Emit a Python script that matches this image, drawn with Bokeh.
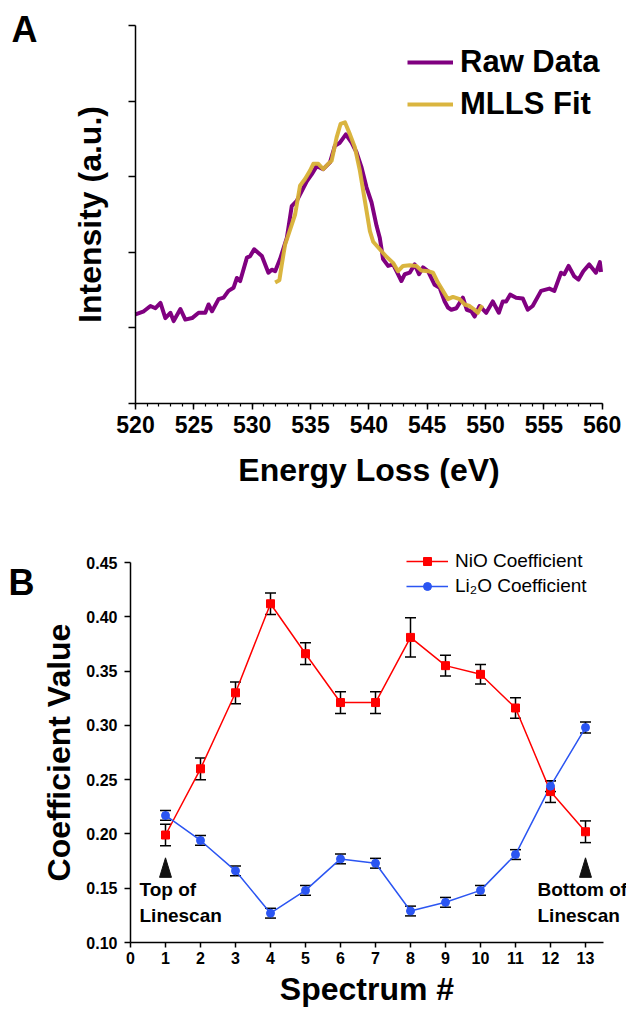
from bokeh.plotting import figure
from bokeh.models import (ColumnDataSource, Legend, LegendItem, Label, Whisker,
                          TeeHead, FixedTicker, Range1d, NumeralTickFormatter)
from bokeh.layouts import column
from bokeh.embed import file_html
from bokeh.resources import INLINE

FONT = "Liberation Sans"

# ---------------- Panel A: O-K edge spectrum and MLLS fit ----------------
raw_energy = [520.00, 520.71, 521.28, 521.71, 522.14, 522.56, 522.99, 523.27, 523.85,
              524.27, 524.85, 525.41, 525.98, 526.26, 526.56, 527.12, 527.55, 527.97,
              528.40, 528.69, 528.97, 529.55, 529.83, 530.17, 530.83, 531.39, 531.68,
              531.97, 532.39, 532.97, 533.39, 533.82, 534.25, 534.68, 535.10, 535.53,
              536.09, 536.67, 537.09, 537.52, 538.03, 538.52, 538.95, 539.38, 539.80,
              540.23, 540.66, 540.94, 541.22, 541.65, 542.08, 542.37, 542.79, 543.08,
              543.50, 543.93, 544.30, 544.64, 545.07, 545.64, 546.07, 546.50, 546.78,
              547.07, 547.50, 548.06, 548.40, 548.78, 549.06, 549.49, 550.06, 550.62,
              551.14, 551.48, 551.77, 552.11, 552.62, 553.19, 553.62, 554.04, 554.76,
              555.47, 555.90, 556.47, 556.75, 557.12, 557.61, 557.97, 558.38, 558.89,
              559.46, 559.80, 559.90]
raw_intensity = [1.18, 1.22, 1.29, 1.26, 1.33, 1.13, 1.20, 1.09, 1.25,
                 1.11, 1.13, 1.20, 1.20, 1.31, 1.22, 1.38, 1.40, 1.49,
                 1.53, 1.66, 1.62, 1.93, 1.95, 2.04, 1.95, 1.73, 1.77,
                 1.75, 1.91, 2.19, 2.61, 2.68, 2.81, 2.94, 3.03, 3.14,
                 3.10, 3.19, 3.41, 3.45, 3.56, 3.45, 3.32, 3.12, 2.86,
                 2.66, 2.35, 2.19, 1.91, 1.82, 1.84, 1.75, 1.62, 1.71,
                 1.73, 1.84, 1.71, 1.80, 1.75, 1.57, 1.53, 1.35, 1.27,
                 1.24, 1.26, 1.40, 1.24, 1.22, 1.15, 1.29, 1.20, 1.35,
                 1.20, 1.35, 1.35, 1.44, 1.40, 1.39, 1.24, 1.29, 1.49,
                 1.52, 1.49, 1.73, 1.71, 1.82, 1.68, 1.64, 1.75, 1.84,
                 1.73, 1.87, 1.74]

fit_energy = [531.97, 532.33, 532.54, 532.82, 533.25, 533.68, 534.10, 534.53, 534.96,
              535.24, 535.67, 536.09, 536.52, 536.81, 537.24, 537.58, 537.95, 538.38,
              538.80, 539.23, 539.66, 540.09, 540.37, 540.94, 541.51, 542.08, 542.50,
              542.93, 543.50, 544.08, 544.50, 545.07, 545.50, 545.92, 546.35, 546.78,
              547.21, 547.78, 548.21, 548.63, 549.06, 549.34, 549.72]
fit_intensity = [1.60, 1.63, 1.84, 2.10, 2.30, 2.50, 2.88, 2.97, 3.08,
                 3.17, 3.17, 3.10, 3.17, 3.21, 3.52, 3.70, 3.72, 3.56,
                 3.39, 3.08, 2.68, 2.28, 2.14, 2.04, 1.94, 1.86, 1.75,
                 1.82, 1.83, 1.82, 1.76, 1.75, 1.73, 1.60, 1.49, 1.38,
                 1.41, 1.38, 1.31, 1.29, 1.24, 1.20, 1.30]

energy_ticks = [520, 525, 530, 535, 540, 545, 550, 555, 560]
intensity_ticks = [0, 1, 2, 3, 4, 5]

# ---------------- Panel B: MLLS coefficients along the linescan ----------------
spectrum = [1, 2, 3, 4, 5, 6, 7, 8, 9, 10, 11, 12, 13]
nio_coef = [0.199, 0.260, 0.330, 0.412, 0.366, 0.321, 0.321, 0.381, 0.355, 0.347,
            0.316, 0.239, 0.202]
nio_err = [0.010, 0.010, 0.010, 0.010, 0.010, 0.010, 0.010, 0.018, 0.0095, 0.009,
           0.0095, 0.010, 0.010]
li2o_coef = [0.217, 0.194, 0.166, 0.127, 0.148, 0.177, 0.173, 0.129, 0.137, 0.148,
             0.181, 0.244, 0.298]
li2o_err = [0.0045, 0.0045, 0.0045, 0.0045, 0.0045, 0.0045, 0.0045, 0.0045, 0.0045,
            0.0045, 0.0045, 0.005, 0.005]
spectrum_ticks = list(range(0, 14))
coef_ticks = [0.10, 0.15, 0.20, 0.25, 0.30, 0.35, 0.40, 0.45]

# linescan end markers: spectrum index, arrow base / tip (coefficient units)
scan_ends = [1, 13]
arrow_base = 0.160
arrow_tip = 0.178
arrow_half_width = 0.17

PURPLE = "#800080"
GOLD = "#d8b135"
RED = "#ff0000"
BLUE = "#2b55f2"

W = 626
HA, HB = 520, 490


def span(v0, v1, p0, p1, size):
    """Range whose values v0/v1 land on canvas pixels p0/p1 (canvas is `size` px)."""
    scale = (p1 - p0) / (v1 - v0)
    start = v0 - p0 / scale
    return start, start + size / scale


def style_axis(ax, label_size, title_size):
    ax.axis_line_color = "black"
    ax.axis_line_width = 1.5
    ax.major_tick_line_color = "black"
    ax.major_tick_line_width = 1.5
    ax.minor_tick_line_color = "black"
    ax.minor_tick_line_width = 1.2
    ax.major_tick_in = 0
    ax.minor_tick_in = 0
    ax.major_label_text_font = FONT
    ax.major_label_text_font_style = "bold"
    ax.major_label_text_font_size = label_size
    ax.major_label_text_color = "black"
    ax.axis_label_text_font = FONT
    ax.axis_label_text_font_style = "bold"
    ax.axis_label_text_font_size = title_size
    ax.axis_label_text_color = "black"


# ---- figure A (the frame fills the canvas; axes are pinned inside it) ----
ax0, ax1 = span(520, 560, 135, 601.7, W)
ay0, ay1 = span(0, 5, HA - 403, HA - 25, HA)
pa = figure(width=W, height=HA, x_range=Range1d(ax0, ax1), y_range=Range1d(ay0, ay1),
            output_backend="svg", toolbar_location=None,
            min_border_left=0, min_border_right=0, min_border_top=0, min_border_bottom=0)
pa.outline_line_color = None
pa.xgrid.visible = False
pa.ygrid.visible = False

raw_src = ColumnDataSource(dict(x=raw_energy, y=raw_intensity))
fit_src = ColumnDataSource(dict(x=fit_energy, y=fit_intensity))
r_raw = pa.line("x", "y", source=raw_src, line_color=PURPLE, line_width=4,
                line_join="round")
r_fit = pa.line("x", "y", source=fit_src, line_color=GOLD, line_width=4,
                line_join="round", line_alpha=0.95)

xa = pa.xaxis[0]
style_axis(xa, "23px", "32px")
xa.fixed_location = 0
xa.bounds = (520, 560)
xa.ticker = FixedTicker(ticks=energy_ticks, minor_ticks=list(range(520, 561)))
xa.major_tick_out = 6
xa.minor_tick_out = 3
xa.major_label_standoff = 6
xa.axis_label = "Energy Loss (eV)"
xa.axis_label_standoff = 16

ya = pa.yaxis[0]
style_axis(ya, "23px", "32px")
ya.fixed_location = 520
ya.bounds = (0, 5)
ya.ticker = FixedTicker(ticks=intensity_ticks, minor_ticks=[])
ya.major_label_overrides = {t: "" for t in intensity_ticks}
ya.major_tick_out = 7
ya.major_label_standoff = 0
ya.axis_label = "Intensity (a.u.)"
ya.axis_label_standoff = 21

leg_a = Legend(items=[LegendItem(label="Raw Data", renderers=[r_raw]),
                      LegendItem(label="MLLS Fit", renderers=[r_fit])],
               location=(407, HA - 122), orientation="vertical",
               label_text_font=FONT, label_text_font_style="bold",
               label_text_font_size="31px", label_text_color="black",
               glyph_width=46, glyph_height=34, label_height=34, label_standoff=7,
               spacing=6, padding=0, margin=0,
               border_line_color=None, background_fill_alpha=0)
pa.add_layout(leg_a)

sa = (ax1 - ax0) / W
sya = (ay1 - ay0) / HA
pa.add_layout(Label(x=ax0 + 11 * sa, y=ay1 - 29 * sya, text="A", text_font=FONT,
                    text_font_style="bold", text_font_size="36px", text_color="black",
                    text_align="left", text_baseline="middle"))

# ---- figure B ----
bx0, bx1 = span(0, 13.5, 130, 602.5, W)
by0, by1 = span(0.10, 0.45, HB - 422, HB - 42, HB)
pb = figure(width=W, height=HB, x_range=Range1d(bx0, bx1), y_range=Range1d(by0, by1),
            output_backend="svg", toolbar_location=None,
            min_border_left=0, min_border_right=0, min_border_top=0, min_border_bottom=0)
pb.outline_line_color = None
pb.xgrid.visible = False
pb.ygrid.visible = False

nio_src = ColumnDataSource(dict(x=spectrum, y=nio_coef,
                                lo=[v - e for v, e in zip(nio_coef, nio_err)],
                                hi=[v + e for v, e in zip(nio_coef, nio_err)]))
li_src = ColumnDataSource(dict(x=spectrum, y=li2o_coef,
                               lo=[v - e for v, e in zip(li2o_coef, li2o_err)],
                               hi=[v + e for v, e in zip(li2o_coef, li2o_err)]))

r_nio_line = pb.line("x", "y", source=nio_src, line_color=RED, line_width=1.5)
r_li_line = pb.line("x", "y", source=li_src, line_color=BLUE, line_width=1.5)
r_nio_pts = pb.scatter("x", "y", source=nio_src, marker="square", size=8,
                       fill_color=RED, line_color=RED)
r_li_pts = pb.scatter("x", "y", source=li_src, marker="circle", size=8,
                      fill_color=BLUE, line_color=BLUE)

for src in (nio_src, li_src):
    pb.add_layout(Whisker(source=src, base="x", upper="hi", lower="lo",
                          line_color="black", line_width=1.5,
                          upper_head=TeeHead(size=11, line_color="black", line_width=1.5),
                          lower_head=TeeHead(size=11, line_color="black", line_width=1.5)))

# arrows marking the two ends of the linescan
pb.patches(xs=[[s - arrow_half_width, s + arrow_half_width, s] for s in scan_ends],
           ys=[[arrow_base, arrow_base, arrow_tip] for _ in scan_ends],
           fill_color="#111111", line_color="#111111")

pb.add_layout(Label(x=scan_ends[0], y=arrow_base, x_offset=-26, y_offset=-2,
                    text="Top of\nLinescan", text_font=FONT, text_font_style="bold",
                    text_font_size="19px", text_color="black",
                    text_align="left", text_baseline="top"))
pb.add_layout(Label(x=scan_ends[1], y=arrow_base, x_offset=-48, y_offset=-2,
                    text="Bottom of\nLinescan", text_font=FONT, text_font_style="bold",
                    text_font_size="19px", text_color="black",
                    text_align="left", text_baseline="top"))

xb = pb.xaxis[0]
style_axis(xb, "16px", "32px")
xb.fixed_location = 0.10
xb.bounds = (0, 13.5)
xb.ticker = FixedTicker(ticks=spectrum_ticks, minor_ticks=[])
xb.major_tick_out = 5
xb.major_label_standoff = 4
xb.axis_label = "Spectrum #"
xb.axis_label_standoff = 4

yb = pb.yaxis[0]
style_axis(yb, "16px", "32px")
yb.fixed_location = 0
yb.bounds = (0.10, 0.45)
yb.ticker = FixedTicker(ticks=coef_ticks, minor_ticks=[])
yb.formatter = NumeralTickFormatter(format="0.00")
yb.major_tick_out = 6
yb.major_label_standoff = 7
yb.axis_label = "Coefficient Value"
yb.axis_label_standoff = 6

leg_b = Legend(items=[LegendItem(label="NiO Coefficient", renderers=[r_nio_line, r_nio_pts]),
                      LegendItem(label="Li\u2082O Coefficient", renderers=[r_li_line, r_li_pts])],
               location=(406, HB - 77), orientation="vertical",
               label_text_font=FONT, label_text_font_size="19px",
               label_text_color="black",
               glyph_width=42, glyph_height=20, label_height=20, label_standoff=7,
               spacing=3, padding=0, margin=0,
               border_line_color=None, background_fill_alpha=0)
pb.add_layout(leg_b)

sb = (bx1 - bx0) / W
syb = (by1 - by0) / HB
pb.add_layout(Label(x=bx0 + 8 * sb, y=by1 - 62 * syb, text="B", text_font=FONT,
                    text_font_style="bold", text_font_size="36px", text_color="black",
                    text_align="left", text_baseline="middle"))

layout = column(pa, pb, spacing=0)
open("out.html", "w").write(file_html(layout, INLINE))
